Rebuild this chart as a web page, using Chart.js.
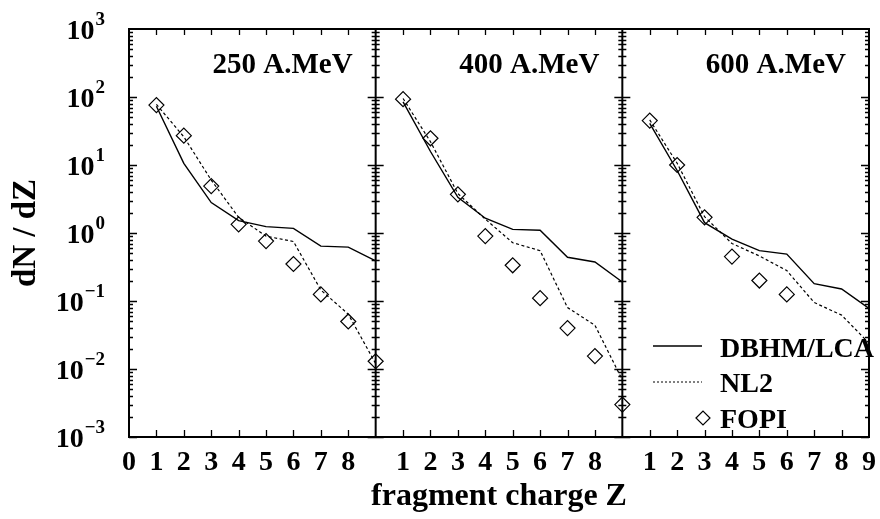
<!DOCTYPE html>
<html>
<head>
<meta charset="utf-8">
<script src="https://cdn.jsdelivr.net/npm/chart.js@4"></script>
<style>
  html, body { margin: 0; padding: 0; background: #fff; }
  #wrap { width: 880px; height: 519px; }
</style>
</head>
<body>
<div id="wrap"><canvas id="fragChart" width="880" height="519"></canvas></div>
<script>
// fragment charge Z
var charge = [1, 2, 3, 4, 5, 6, 7, 8, 9];
var energies = ['250 A.MeV', '400 A.MeV', '600 A.MeV'];

// dN/dZ per beam energy
var dbhm250 = [73, 10.6, 2.8, 1.52, 1.24, 1.17, 0.64, 0.62, 0.39];
var nl2_250 = [78, 26, 6.0, 1.7, 0.9, 0.75, 0.145, 0.064, 0.012];
var fopi250 = [76, 27, 4.9, 1.34, 0.76, 0.35, 0.125, 0.05, 0.013];

var dbhm400 = [85, 15.8, 3.35, 1.65, 1.13, 1.1, 0.44, 0.375, 0.19];
var nl2_400 = [95, 22, 3.8, 1.6, 0.72, 0.55, 0.08, 0.044, 0.0069];
var fopi400 = [93, 24.7, 3.7, 0.9, 0.335, 0.11, 0.04, 0.0155, 0.003];

var dbhm600 = [41, 8.3, 1.42, 0.81, 0.55, 0.49, 0.18, 0.15, 0.078];
var nl2_600 = [46, 10.6, 1.74, 0.7, 0.46, 0.28, 0.095, 0.062, 0.024];
var fopi600 = [45, 10, 1.7, 0.45, 0.2, 0.125];

// axis labels
var yExponents = [-3, -2, -1, 0, 1, 2, 3];
var xTicks250 = ['0', '1', '2', '3', '4', '5', '6', '7', '8'];
var xTicks400 = ['', '1', '2', '3', '4', '5', '6', '7', '8'];
var xTicks600 = ['', '1', '2', '3', '4', '5', '6', '7', '8', '9'];
var legendNames = ['DBHM/LCA', 'NL2', 'FOPI'];

var zSpan = 9;   // each panel covers Z = 0..9
var panelTicks = [xTicks250, xTicks400, xTicks600];
var FONT = "'Liberation Serif', 'Times New Roman', serif";

function shifted(vals, panel) {
  return vals.map(function (v, i) { return { x: charge[i] + panel * zSpan, y: v }; });
}

var solidStyle = { borderColor: '#000', borderWidth: 1.4, pointRadius: 0, fill: false, tension: 0 };
var dashStyle = { borderColor: '#000', borderWidth: 1.2, borderDash: [3, 2.5], pointRadius: 0, fill: false, tension: 0 };
var fopiStyle = {
  showLine: false, pointStyle: 'rectRot', pointRadius: 7.5, borderColor: '#000',
  backgroundColor: 'rgba(0,0,0,0)', pointBorderWidth: 1.2, pointHoverRadius: 7.5
};

var datasets = [];
[[dbhm250, nl2_250, fopi250], [dbhm400, nl2_400, fopi400], [dbhm600, nl2_600, fopi600]].forEach(function (set, p) {
  datasets.push(Object.assign({ label: legendNames[0], data: shifted(set[0], p) }, solidStyle));
  datasets.push(Object.assign({ label: legendNames[1], data: shifted(set[1], p) }, dashStyle));
  datasets.push(Object.assign({ label: legendNames[2], data: shifted(set[2], p) }, fopiStyle));
});

// frame, dividers, inward ticks, decade labels, panel titles and key
var panelDecor = {
  id: 'panelDecor',
  afterDraw: function (chart) {
    var ctx = chart.ctx, a = chart.chartArea;
    var xs = chart.scales.x, ys = chart.scales.y;
    var d1 = xs.getPixelForValue(zSpan), d2 = xs.getPixelForValue(2 * zSpan);
    ctx.save();
    ctx.strokeStyle = '#000';
    ctx.fillStyle = '#000';

    // y ticks on the outer axes and on both sides of the dividers
    ctx.lineWidth = 1.3;
    ctx.beginPath();
    for (var e = -3; e < 3; e++) {
      for (var m = 1; m <= 9; m++) {
        var py = Math.round(ys.getPixelForValue(m * Math.pow(10, e))) + 0.5;
        var len = m === 1 ? 8 : 4;
        ctx.moveTo(a.left, py); ctx.lineTo(a.left + len, py);
        ctx.moveTo(d1 - len, py); ctx.lineTo(d1 + len, py);
        ctx.moveTo(d2 - len, py); ctx.lineTo(d2 + len, py);
        ctx.moveTo(a.right - len, py); ctx.lineTo(a.right, py);
      }
    }
    // x ticks top and bottom
    for (var v = 1; v < 3 * zSpan; v++) {
      if (v % zSpan === 0) continue;
      var px = Math.round(xs.getPixelForValue(v)) + 0.5;
      ctx.moveTo(px, a.top); ctx.lineTo(px, a.top + 6);
      ctx.moveTo(px, a.bottom); ctx.lineTo(px, a.bottom - 7);
    }
    ctx.stroke();

    // frame and panel dividers
    ctx.lineWidth = 2;
    ctx.strokeRect(a.left, a.top, a.right - a.left, a.bottom - a.top);
    ctx.beginPath();
    ctx.moveTo(d1, a.top); ctx.lineTo(d1, a.bottom);
    ctx.moveTo(d2, a.top); ctx.lineTo(d2, a.bottom);
    ctx.stroke();

    // decade labels 10^n
    ctx.textBaseline = 'alphabetic';
    ctx.textAlign = 'left';
    yExponents.forEach(function (n) {
      var py = ys.getPixelForValue(Math.pow(10, n));
      var expText = n < 0 ? '\u2212' + (-n) : String(n);
      ctx.font = 'bold 28px ' + FONT;
      var wBase = ctx.measureText('10').width;
      ctx.font = 'bold 19px ' + FONT;
      var wExp = ctx.measureText(expText).width;
      var x0 = a.left - 25 - wBase - wExp;
      ctx.font = 'bold 28px ' + FONT;
      ctx.fillText('10', x0, py + 10);
      ctx.font = 'bold 19px ' + FONT;
      ctx.fillText(expText, x0 + wBase + 1, py - 4);
    });

    // beam energy in each panel
    ctx.font = 'bold 29px ' + FONT;
    ctx.textAlign = 'right';
    var rights = [d1, d2, a.right];
    energies.forEach(function (t, i) {
      ctx.fillText(t, rights[i] - 23, a.top + 44);
    });

    // key
    var kx = a.right - 216, tx = a.right - 149;
    var rows = [a.bottom - 80, a.bottom - 45, a.bottom - 9];
    ctx.font = 'bold 28px ' + FONT;
    ctx.textAlign = 'left';
    legendNames.forEach(function (name, i) {
      ctx.fillText(name, tx, rows[i]);
    });
    ctx.lineWidth = 1.4;
    ctx.setLineDash([]);
    ctx.beginPath();
    ctx.moveTo(kx, rows[0] - 11); ctx.lineTo(kx + 49, rows[0] - 11);
    ctx.stroke();
    ctx.lineWidth = 1;
    ctx.setLineDash([2, 2]);
    ctx.beginPath();
    ctx.moveTo(kx, rows[1] - 10); ctx.lineTo(kx + 49, rows[1] - 10);
    ctx.stroke();
    ctx.setLineDash([]);
    ctx.lineWidth = 1.2;
    ctx.fillStyle = 'rgba(0,0,0,0)';
    Chart.helpers.drawPoint(ctx, { pointStyle: 'rectRot', radius: 7, borderWidth: 1.2 }, kx + 50, rows[2] - 10);
    ctx.restore();
  }
};

var ctx = document.getElementById('fragChart').getContext('2d');
var fragChart = new Chart(ctx, {
  type: 'line',
  data: { datasets: datasets },
  options: {
    responsive: false,
    animation: false,
    devicePixelRatio: 1,
    layout: { padding: { top: 29, right: 11, left: 0, bottom: 0 } },
    plugins: { legend: { display: false }, tooltip: { enabled: false } },
    scales: {
      x: {
        type: 'linear',
        min: 0,
        max: 3 * zSpan,
        grid: { display: false, drawTicks: false },
        border: { display: false },
        ticks: {
          stepSize: 1,
          autoSkip: false,
          maxRotation: 0,
          padding: 9,
          color: '#000',
          font: { family: FONT, size: 28, weight: 'bold' },
          callback: function (value) {
            var p = Math.min(Math.floor(value / zSpan), 2);
            return panelTicks[p][value - p * zSpan] || '';
          }
        },
        title: {
          display: true,
          text: 'fragment charge Z',
          color: '#000',
          font: { family: FONT, size: 32, weight: 'bold' },
          padding: { top: 0, bottom: 3 }
        },
        afterFit: function (scale) {
          scale.height = 82;
          scale.paddingLeft = 0;
          scale.paddingRight = 0;
        }
      },
      y: {
        type: 'logarithmic',
        min: 1e-3,
        max: 1e3,
        grid: { display: false, drawTicks: false },
        border: { display: false },
        ticks: { display: false },
        title: {
          display: true,
          text: 'dN / dZ',
          color: '#000',
          font: { family: FONT, size: 33, weight: 'bold' },
          padding: { top: 7, bottom: 0 }
        },
        afterFit: function (scale) { scale.width = 129; }
      }
    }
  },
  plugins: [panelDecor]
});
</script>
</body>
</html>
